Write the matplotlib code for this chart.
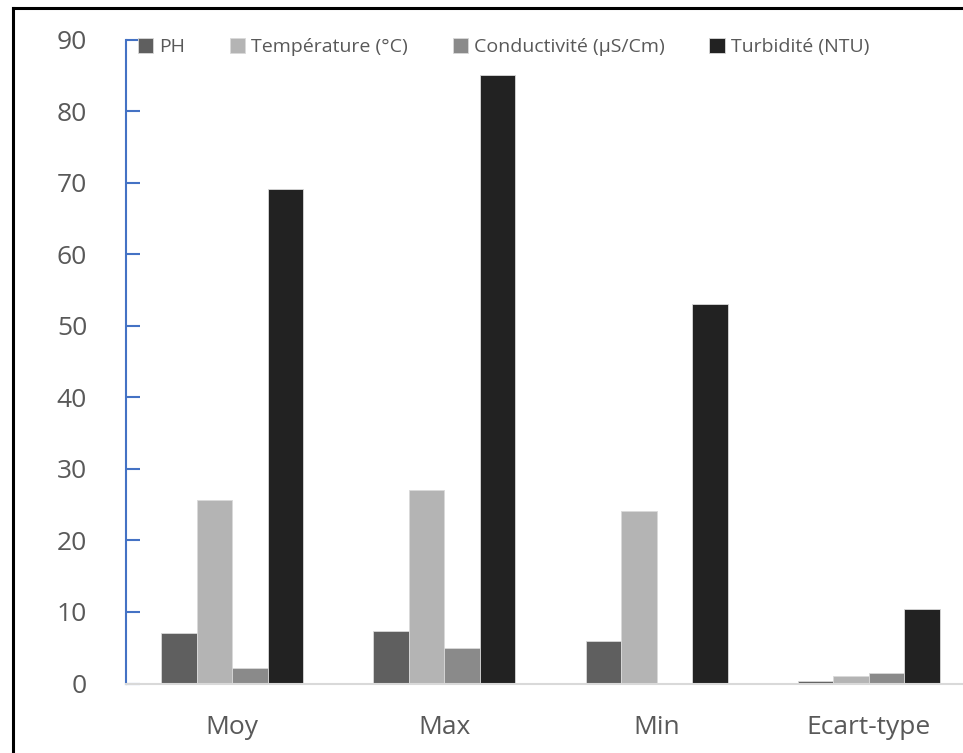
import matplotlib.pyplot as plt
import numpy as np

plt.rcParams['font.family'] = ['Open Sans', 'DejaVu Sans']

# data
categories = ["Moy", "Max", "Min", "Ecart-type"]
series_names = ["PH", "Température (°C)", "Conductivité (µS/Cm)", "Turbidité (NTU)"]
ph = [7.0, 7.3, 5.9, 0.4]
temperature = [25.7, 27.0, 24.1, 1.0]
conductivite = [2.2, 4.9, 0.0, 1.4]
turbidite = [69.1, 85.0, 53.0, 10.4]
colors = ["#5f5f5f", "#b4b4b4", "#8a8a8a", "#222222"]

series = [ph, temperature, conductivite, turbidite]

fig = plt.figure(figsize=(9.63, 7.53), dpi=100)
# the picture is cropped: plot area runs a bit past the right edge
ax = fig.add_axes([126 / 963, 1 - 683.5 / 753, 849 / 963, 644 / 753])

x = np.arange(len(categories))
w = 0.1675
for i, (vals, name, c) in enumerate(zip(series, series_names, colors)):
    ax.bar(x + (i - 1.5) * w, vals, width=w, color=c, label=name,
           edgecolor="#d9d9d9", linewidth=0.6)

ax.set_xlim(-0.5, 3.5)
ax.set_ylim(0, 90)
ax.set_yticks(range(0, 91, 10))
ax.set_xticks(x)
ax.set_xticklabels(categories)

ax.tick_params(axis='y', direction='in', length=10, width=1.5, color="#4472c4",
               labelsize=19, labelcolor="#595959", pad=28)
ax.tick_params(axis='x', length=0, labelsize=19, labelcolor="#595959", pad=23)

for s in ["top", "right"]:
    ax.spines[s].set_visible(False)
ax.spines["left"].set_color("#4472c4")
ax.spines["left"].set_linewidth(1.5)
ax.spines["bottom"].set_color("#d9d9d9")
ax.spines["bottom"].set_linewidth(1.5)

leg = ax.legend(loc="upper left", bbox_to_anchor=(0.0, 1.02), ncol=4, frameon=False,
                fontsize=14, handlelength=0.8, handleheight=0.8, handletextpad=0.3,
                columnspacing=2.3, borderaxespad=0.2)
for t in leg.get_texts():
    t.set_color("#595959")

# black frame on the left and top (the rest is cropped away)
fig.add_artist(plt.Line2D([12.5 / 963, 12.5 / 963], [0, 1 - 7.5 / 753],
                          color="black", linewidth=2.2, transform=fig.transFigure))
fig.add_artist(plt.Line2D([12.5 / 963, 1], [1 - 7.5 / 753, 1 - 7.5 / 753],
                          color="black", linewidth=2.2, transform=fig.transFigure))

fig.savefig("out.png", dpi=100)
